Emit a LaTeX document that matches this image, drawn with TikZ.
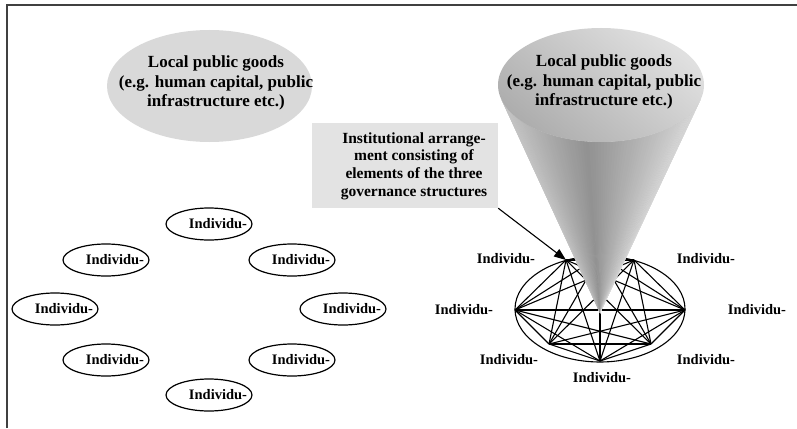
\documentclass[tikz,border=0pt]{standalone}
\usepackage{fontspec}
\setmainfont{Liberation Serif}
\usetikzlibrary{arrows.meta,shapes.geometric}
\tikzset{
    indiv/.style={draw, ellipse, line width=1.2pt, minimum width=86pt, minimum height=32pt, inner sep=0pt},
    indtext/.style={font=\fontsize{14.5}{17}\selectfont\bfseries, inner sep=0pt},
    goodstext/.style={font=\fontsize{17}{19.5}\selectfont\bfseries, align=center, inner sep=0pt},
    boxtext/.style={font=\fontsize{15.5}{17.7}\selectfont\bfseries, align=center, inner sep=0pt},
    infobox/.style={fill=black!11, minimum width=186pt, minimum height=85pt, inner sep=0pt},
    edge/.style={line width=1.1pt},
    pointer/.style={line width=1.1pt, -{Triangle[length=12pt,width=9pt]}}
}

\begin{document}
\begin{tikzpicture}[x=1pt, y=-1pt]
\useasboundingbox (0,0) rectangle (797,428);
% frame (only top and left edge show)
\draw [black!75, line width=2pt] (7,428) -- (7,5) -- (797,5);

% left: goods and loose individuals
\fill [black!15] (209.5,86) ellipse [x radius=102.5, y radius=56];
\node[goodstext] (goodsL) at (216,83) {Local public goods\\(e.g. human capital, public\\infrastructure etc.)};
\foreach \n/\x/\y in {1/209/224, 2/292/260, 3/343/309, 4/292/360, 5/209/395, 6/106/360, 7/55/309, 8/106/260} {
  \node[indiv] (p\n) at (\x,\y) {};
  \node[indtext] (pt\n) at ([xshift=9pt]p\n.center) {Individu-};
}

% right: network of individuals
\coordinate (v0) at (600,256);
\coordinate (v1) at (566,260);
\coordinate (v2) at (634,260);
\coordinate (v3) at (515,310);
\coordinate (v4) at (685,310);
\coordinate (v5) at (549,344);
\coordinate (v6) at (651,344);
\coordinate (v7) at (600,361);
\draw [edge] (600,309) ellipse [x radius=85, y radius=53];
\foreach \i [evaluate=\i as \k using int(\i+1)] in {0,...,6}
  \foreach \j in {\k,...,7}
    \draw [edge] (v\i) -- (v\j);

% cone: plain body first, then thin slices from the tip
\coordinate (tip) at (600,313);
\fill [black!32] (tip) -- ({601+103*cos(165.5)},{85+57*sin(165.5)})
  arc [start angle=165.5, end angle=14.5, x radius=103, y radius=57] -- cycle;
\foreach \i in {0,...,89} {
  \pgfmathsetmacro{\aa}{165.5-\i*151/90}
  \pgfmathsetmacro{\ab}{165.5-(\i+1.3)*151/90}
  \pgfmathsetmacro{\g}{43-26*abs(cos(\aa)+0.15)}
  \fill [black!\g] (tip) -- ({601+103*cos(\aa)},{85+57*sin(\aa)}) -- ({601+103*cos(\ab)},{85+57*sin(\ab)}) -- cycle;
}
\shade [top color=black!12, bottom color=black!32, shading angle=-40] (601,85) ellipse [x radius=103, y radius=57];
\node[goodstext] (goodsR) at (604,82) {Local public goods\\(e.g. human capital, public\\infrastructure etc.)};

% institutional arrangement
\node[infobox] (box) at (405,165.5) {};
\node[boxtext] (boxt) at (414,166) {Institutional arrange-\\ment consisting of\\elements of the three\\governance structures};
\draw [pointer] (box.south east) -- (v1);

\foreach \n/\x/\y in {1/506/259, 2/706/259, 3/464/310, 4/757/310, 5/509/360, 6/706/360, 7/602/378}
  \node[indtext] (q\n) at (\x,\y) {Individu-};
\end{tikzpicture}
\end{document}
